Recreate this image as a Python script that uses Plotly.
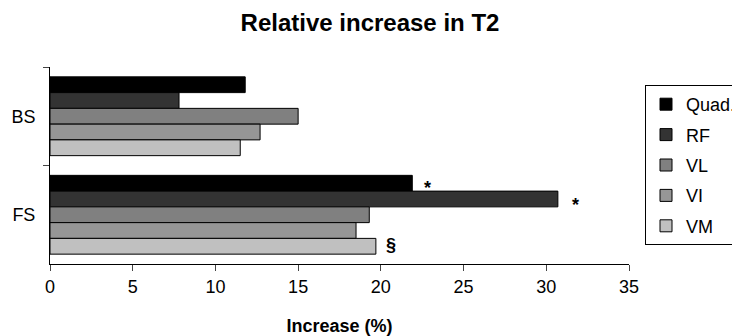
import plotly.graph_objects as go

categories = ["BS", "FS"]
series_names = ["Quad.", "RF", "VL", "VI", "VM"]
quad = [11.8, 21.9]
rf = [7.8, 30.7]
vl = [15.0, 19.3]
vi = [12.7, 18.5]
vm = [11.5, 19.7]
colors = ["#000000", "#333333", "#808080", "#969696", "#c0c0c0"]
x_ticks = [0, 5, 10, 15, 20, 25, 30, 35]

series_values = [quad, rf, vl, vi, vm]

fig = go.Figure()
for i, (name, vals) in enumerate(zip(series_names, series_values)):
    fig.add_trace(go.Bar(
        y=categories, x=vals, name=name, orientation="h",
        marker=dict(color=colors[i], line=dict(color="#000000", width=1)),
        legendgroup=name,
    ))

FONT = "Liberation Sans, Arial, sans-serif"

# significance markers
fig.add_annotation(x=quad[1], y="FS", text="<b>*</b>", showarrow=False,
                   xanchor="left", xshift=10, yshift=27, font=dict(size=18, family=FONT, color="#000"))
fig.add_annotation(x=rf[1], y="FS", text="<b>*</b>", showarrow=False,
                   xanchor="left", xshift=12, yshift=10, font=dict(size=18, family=FONT, color="#000"))
fig.add_annotation(x=vm[1], y="FS", text="<b>§</b>", showarrow=False,
                   xanchor="left", xshift=8, yshift=-30, font=dict(size=18, family=FONT, color="#000"))

W, H = 732, 328
fig.update_layout(
    width=W, height=H,
    margin=dict(l=42, r=111, t=59, b=72, autoexpand=False),
    paper_bgcolor="white", plot_bgcolor="white",
    font=dict(family=FONT, size=18, color="#000"),
    title=dict(text="<b>Relative increase in T2</b>", x=362 / W, xanchor="center",
               y=1 - 15 / H, yanchor="middle", font=dict(size=24, family=FONT)),
    barmode="group", bargap=0.2, bargroupgap=0,
    showlegend=True,
    legend=dict(xref="container", yref="container",
                x=637 / W, xanchor="left", y=1 - 77 / H, yanchor="top",
                bordercolor="#000", borderwidth=1, tracegroupgap=4,
                font=dict(size=18, family=FONT), traceorder="grouped",
                itemwidth=30),
)
fig.update_xaxes(range=[0, 35], tickvals=x_ticks, ticks="outside", ticklen=6,
                 showline=True, linecolor="#000", linewidth=1, showgrid=False,
                 zeroline=False, tickfont=dict(size=18), automargin=False,
                 title=dict(text="<b>Increase (%)</b>", font=dict(size=18), standoff=24))
fig.update_yaxes(autorange="reversed", type="category", ticks="outside", ticklen=6,
                 tickson="boundaries", showline=True, linecolor="#000", linewidth=1,
                 showgrid=False, tickfont=dict(size=18), automargin=False,
                 ticklabelstandoff=10)

fig.write_html("out.html")
